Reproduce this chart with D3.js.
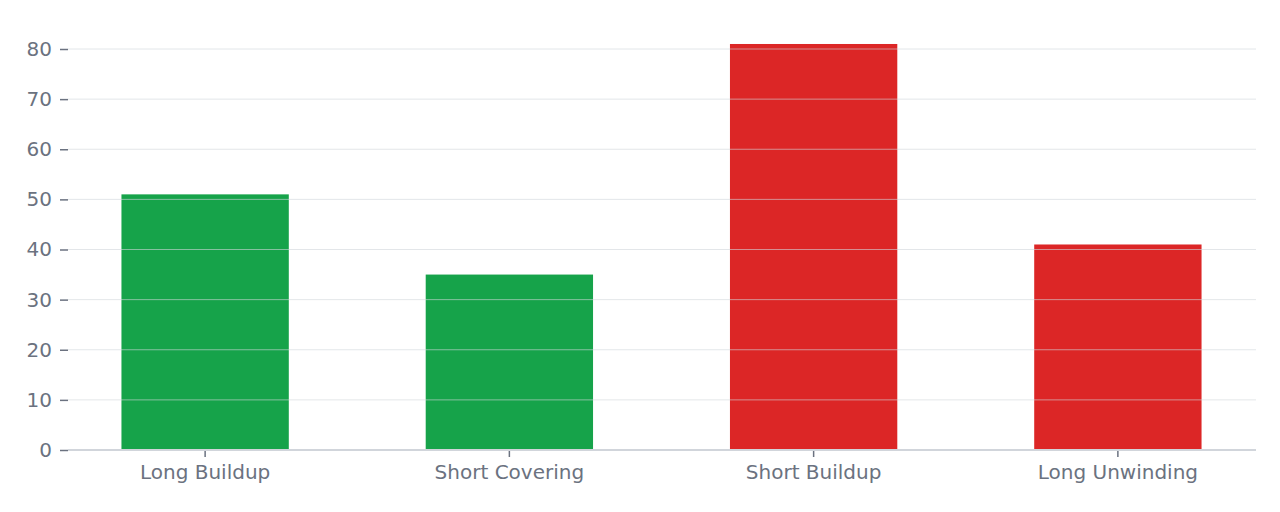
<!DOCTYPE html>
<html><head><meta charset="utf-8">
<script src="https://cdn.jsdelivr.net/npm/d3@7"></script>
<style>body{margin:0;background:#fff}text{font-family:"DejaVu Sans",sans-serif}</style>
</head><body><svg id="c" width="1280" height="512"></svg>
<script>
const categories = ["Long Buildup","Short Covering","Short Buildup","Long Unwinding"];
const values = [51, 35, 81, 41];
const barColors = ["#16a34a","#16a34a","#dc2626","#dc2626"];
const yTicks = [0,10,20,30,40,50,60,70,80];

const svg = d3.select("#c");
const mLeft = 68, mRight = 1256, mTop = 49, mBottom = 450;
const x = d3.scaleBand().domain(categories).range([53, 1270]).paddingInner(0.45).paddingOuter(0.225);
const y = d3.scaleLinear().domain([0, 80]).range([mBottom, mTop]);

svg.selectAll("rect.bar").data(values).join("rect")
  .attr("x", (d,i) => x(categories[i])).attr("width", x.bandwidth())
  .attr("y", d => y(d)).attr("height", d => y(0) - y(d))
  .attr("fill", (d,i) => barColors[i]);

svg.selectAll("line.grid").data(yTicks.filter(t => t > 0)).join("line")
  .attr("x1", mLeft).attr("x2", mRight).attr("y1", d => y(d)).attr("y2", d => y(d))
  .attr("stroke", "#d1d5db").attr("stroke-opacity", 0.6).attr("stroke-width", 1);

svg.append("line").attr("x1", mLeft).attr("x2", mRight).attr("y1", y(0)).attr("y2", y(0))
  .attr("stroke", "#d1d5db").attr("stroke-width", 2);

const yAxis = svg.append("g").attr("transform", `translate(${mLeft},0)`)
  .call(d3.axisLeft(y).tickValues(yTicks).tickSize(8).tickPadding(8));
yAxis.select(".domain").remove();
yAxis.selectAll("line").attr("stroke", "#6b7280").attr("stroke-width", 1.5);
yAxis.selectAll("text").attr("fill", "#6b7280").style("font-size", "20px");

const xAxis = svg.append("g").attr("transform", `translate(0,${mBottom + 1})`)
  .call(d3.axisBottom(x).tickSize(6).tickPadding(8));
xAxis.select(".domain").remove();
xAxis.selectAll("line").attr("stroke", "#6b7280").attr("stroke-width", 1.5);
xAxis.selectAll("text").attr("fill", "#6b7280").style("font-size", "20px");
</script></body></html>
